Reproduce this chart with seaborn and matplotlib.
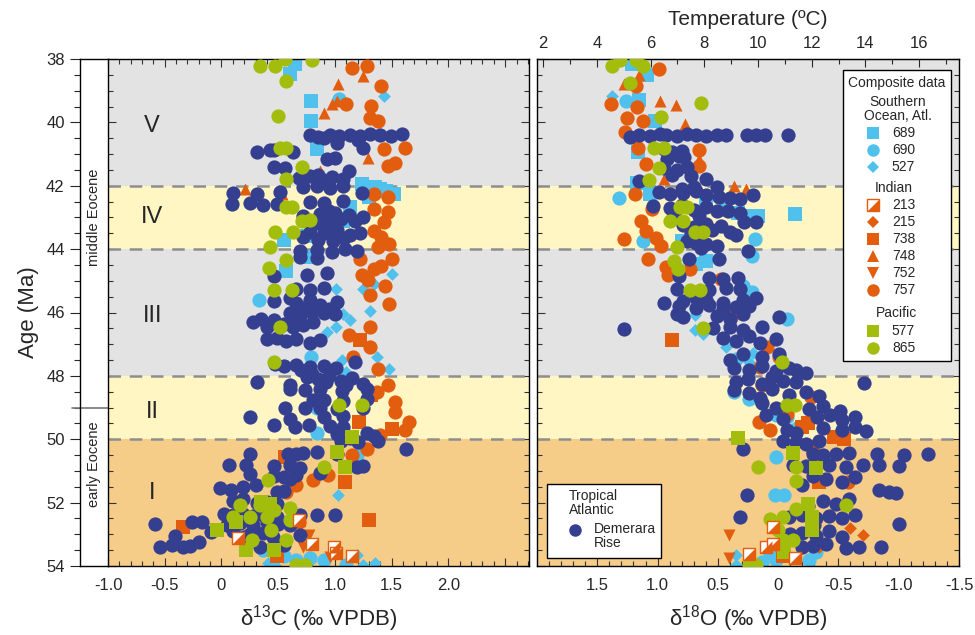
import matplotlib
matplotlib.use("Agg")
import matplotlib.pyplot as plt
import matplotlib.transforms as mtransforms
import seaborn as sns
from matplotlib.patches import Rectangle
from matplotlib.ticker import MultipleLocator, FixedLocator, FuncFormatter

# ---------------- data ----------------
# Demerara Rise (Tropical Atlantic) - d13C panel
dem_c_age = [40.40, 40.45, 40.40, 40.43, 40.40, 40.42, 40.38, 40.40, 40.42, 40.38, 40.64, 40.80, 40.55, 40.50,
             40.92, 40.88, 40.88, 40.95, 41.16, 41.12, 41.42, 41.45, 41.52,
             41.74, 41.70, 41.78, 41.72, 41.80, 41.65, 42.05, 42.00, 42.08, 42.02, 42.22,
             42.22, 42.26, 42.20, 42.58, 42.55, 42.62, 42.58, 42.50, 42.55, 42.48,
             42.95, 42.90, 43.00, 42.85, 43.05, 42.92, 43.10, 42.98, 43.15, 43.18, 42.80,
             43.45, 43.50, 43.40, 43.55, 43.48, 43.70, 43.75, 43.65, 43.62, 43.35,
             44.05, 44.02, 44.08, 44.00, 44.05, 44.26, 44.28, 44.84, 44.82, 44.75,
             45.25, 45.28, 45.22, 45.65, 45.55, 45.70, 45.60, 45.75, 45.68, 45.85, 45.90,
             46.00, 46.05, 45.98, 46.02, 46.05, 46.30, 46.20, 46.25, 46.35, 46.15, 46.40, 46.30, 46.45, 46.45,
             46.85, 46.80, 46.90, 46.85, 46.95, 46.88,
             47.62, 47.70, 47.65, 47.72, 47.68, 47.75, 47.55, 47.80,
             48.20, 48.30, 48.05, 48.10, 48.00, 48.15, 48.08, 48.25, 48.20, 48.30, 47.95,
             48.42, 48.45, 48.40, 48.48, 48.42, 48.77, 48.75, 48.80, 48.72,
             49.00, 49.02, 49.00, 49.05, 49.02, 49.30, 49.35, 49.30, 49.28,
             49.56, 49.60, 49.55, 49.58, 49.62, 49.85, 49.95, 49.80, 49.90, 50.05, 50.30, 50.10, 50.05,
             50.45, 50.45, 50.48, 50.42, 50.40, 50.45, 50.82, 50.80, 50.85, 50.80, 50.90, 50.88, 50.85,
             51.10, 51.15, 51.20, 51.12, 51.05, 51.25, 51.55, 51.60, 51.50, 51.65, 51.62, 51.45,
             51.95, 51.90, 52.00, 52.05, 51.98,
             52.35, 52.40, 52.35, 52.42, 52.38, 52.45, 52.40, 52.40, 52.40,
             52.66, 52.62, 52.62, 52.70, 52.65, 52.70, 52.62, 52.68, 52.72,
             53.05, 52.92, 52.90, 53.00, 52.95, 53.02, 53.10, 53.10,
             53.40, 53.35, 53.40, 53.38, 53.40, 53.35, 53.25]
dem_d13c = [0.78, 0.85, 0.96, 1.04, 1.13, 1.22, 1.31, 1.40, 1.49, 1.59, 1.02, 1.25, 1.20, 0.90,
            0.31, 0.43, 0.46, 0.63, 0.93, 1.00, 0.46, 0.56, 1.12,
            0.68, 0.78, 0.88, 0.97, 1.07, 0.85, 0.72, 0.84, 0.96, 1.07, 1.24,
            0.105, 0.31, 0.52, 0.09, 0.25, 0.37, 0.49, 0.78, 0.90, 1.07,
            0.72, 0.87, 0.93, 1.00, 1.05, 1.12, 1.18, 1.25, 0.95, 0.85, 0.95,
            0.78, 0.90, 1.02, 1.13, 1.22, 0.85, 0.98, 1.08, 0.72, 0.95,
            0.69, 0.84, 0.97, 1.09, 1.19, 0.69, 0.84, 0.46, 0.75, 0.93,
            0.66, 0.78, 0.90, 0.46, 0.60, 0.66, 0.78, 0.87, 1.02, 0.72, 0.95,
            0.60, 0.70, 0.80, 0.90, 1.00, 0.28, 0.35, 0.46, 0.55, 0.63, 0.72, 0.81, 0.63, 0.40,
            0.40, 0.49, 0.57, 0.66, 0.78, 0.87,
            0.47, 0.55, 0.66, 0.78, 0.90, 1.01, 1.18, 0.70,
            0.31, 0.60, 0.75, 0.85, 0.95, 1.05, 1.15, 1.25, 0.92, 1.10, 0.80,
            0.60, 0.74, 0.87, 1.06, 1.28, 0.81, 0.90, 1.07, 1.28,
            0.56, 0.74, 0.87, 1.02, 1.25, 0.25, 0.60, 0.90, 1.07,
            0.46, 0.65, 0.77, 0.96, 1.07, 1.02, 1.13, 1.28, 1.34, 1.38, 1.63, 1.20, 1.05,
            0.25, 0.59, 0.66, 0.72, 0.84, 1.02, 0.07, 0.22, 0.46, 0.60, 0.69, 1.19, 1.25,
            0.25, 0.46, 0.55, 0.66, 0.87, 0.60, -0.01, 0.08, 0.19, 0.49, 0.55, 0.30,
            0.105, 0.19, 0.31, 0.49, 0.40,
            0.02, 0.10, 0.19, 0.28, 0.37, 0.49, 0.69, 0.84, 1.00,
            -0.59, -0.26, -0.17, 0.05, 0.16, 0.28, 0.40, 0.50, 0.60,
            -0.41, -0.09, 0.10, 0.25, 0.37, 0.69, 0.20, 0.45,
            -0.54, -0.44, -0.34, -0.28, 0.34, 0.55, -0.20]

# Demerara Rise - d18O panel
dem_o_age = [40.45, 40.40, 40.42, 40.38, 40.40, 40.42, 40.38, 40.40, 40.42, 40.40, 40.40, 40.40, 40.40, 40.40, 40.40,
             40.85, 40.95, 41.05, 40.90, 41.15, 41.10,
             41.45, 41.50, 41.40, 41.85, 41.80, 42.05, 41.65, 41.70,
             42.20, 42.25, 42.22, 42.18, 42.30, 42.35, 42.40, 42.42, 42.30, 42.10, 42.05,
             42.65, 42.70, 42.60, 42.75, 42.68, 42.80, 42.80, 42.85, 43.15, 43.15, 42.90, 42.95,
             43.25, 43.30, 43.35, 43.40, 43.28, 43.45, 43.55, 43.50, 43.20,
             43.75, 43.80, 43.85, 43.90, 44.05, 43.95, 44.30, 44.32,
             44.85, 44.90, 44.95, 44.90, 45.25, 45.28, 45.22, 45.25,
             45.70, 45.65, 45.55, 45.60, 45.70, 45.62, 45.55,
             45.80, 45.85, 45.75, 45.88, 45.82, 45.78,
             46.05, 46.15, 46.10, 46.20, 46.05, 46.15,
             46.52, 46.50, 46.45, 46.55, 46.45,
             46.80, 46.90, 46.75, 46.95, 46.85,
             47.30, 47.40, 47.30, 47.50,
             47.75, 47.80, 47.70, 47.85, 47.75, 47.82, 47.90,
             48.22, 48.20, 48.25, 48.15, 48.20, 48.05, 48.10,
             48.45, 48.55, 48.40, 48.60, 48.50, 48.65, 48.70,
             48.85, 49.00, 48.90, 49.05, 48.95, 49.10,
             49.25, 49.35, 49.30, 49.25, 49.40, 49.30,
             49.65, 49.70, 49.60, 49.75, 49.70, 49.80,
             50.05, 50.10, 50.15, 50.05, 50.30,
             50.45, 50.50, 50.45, 50.42, 50.45, 50.50, 50.45,
             50.82, 50.85, 50.80, 50.88, 50.82, 50.80, 50.85,
             51.15, 51.25, 51.35, 51.20, 51.60, 51.65, 51.75, 51.45,
             51.95, 52.05, 51.90, 51.70, 52.10,
             52.45, 52.45, 52.40, 52.50, 52.42, 52.48, 52.40,
             52.66, 52.70,
             52.95, 53.05, 52.90, 53.10, 53.00,
             53.40, 53.38, 53.42, 53.40, 53.40, 53.30]
dem_d18o = [1.23, 1.15, 1.06, 0.98, 0.93, 0.84, 0.76, 0.68, 0.60, 0.51, 0.43, 0.26, 0.18, 0.11, -0.08,
            0.95, 0.88, 0.82, 0.80, 0.92, 0.78,
            0.95, 0.84, 0.76, 1.15, 0.60, 0.51, 0.88, 0.72,
            0.99, 0.90, 0.79, 0.68, 0.60, 0.49, 0.40, 0.32, 0.21, 0.80, 0.70,
            1.04, 0.90, 0.80, 0.70, 0.60, 0.51, 0.42, 0.32, 0.28, 0.18, 0.86, 0.66,
            0.79, 0.70, 0.62, 0.55, 0.47, 0.40, 0.35, 0.72, 0.60,
            0.76, 0.68, 0.60, 0.51, 0.25, 0.64, 0.74, 0.49,
            0.82, 0.57, 0.46, 0.33, 0.84, 0.57, 0.43, 0.32,
            0.95, 0.79, 0.68, 0.60, 0.46, 0.29, 0.18,
            0.82, 0.68, 0.57, 0.46, 0.35, 0.24,
            0.84, 0.79, 0.51, 0.40, 0.29, -0.01,
            1.28, 0.54, 0.40, 0.29, 0.13,
            0.46, 0.35, 0.24, 0.15, 0.02,
            0.29, 0.13, -0.01, 0.40,
            0.37, 0.24, 0.13, 0.02, -0.09, -0.15, -0.23,
            -0.71, 0.35, 0.13, -0.04, -0.15, 0.05, 0.25,
            0.37, 0.24, 0.05, -0.09, -0.23, -0.34, 0.15,
            0.13, 0.02, -0.09, -0.26, -0.37, -0.51,
            0.10, -0.04, -0.32, -0.43, -0.53, -0.64,
            -0.37, -0.53, -0.64, -0.73, -0.07, -0.15,
            -0.04, -0.15, -0.23, -0.34, 0.29,
            -0.29, -0.37, -0.48, -0.59, -0.82, -1.04, -1.24,
            -0.12, -0.23, -0.42, -0.56, -0.70, -0.84, -1.00,
            -0.29, -0.40, -0.53, -0.64, -0.84, -0.92, 0.26, -0.20,
            -0.37, -0.48, -0.59, -0.98, -0.25,
            0.32, -0.09, -0.20, -0.31, -0.42, -0.53, -0.64,
            -1.00, -0.30,
            -0.20, -0.31, -0.42, -0.53, -0.10,
            -0.20, -0.29, -0.56, -0.67, -0.85, -0.40]

# Southern Ocean / Atlantic
s689_c_age = [38.17, 38.48, 39.32, 39.95, 40.85, 41.95, 42.05, 42.15, 42.25, 42.37, 42.10, 42.68, 43.10, 43.70, 43.60, 44.68, 44.26]
s689_d13c = [0.65, 0.60, 0.79, 0.79, 0.84, 1.24, 1.35, 1.45, 1.52, 1.30, 1.40, 1.13, 1.07, 0.55, 0.75, 0.57, 0.78]
s689_o_age = [38.17, 38.50, 39.30, 39.97, 40.95, 41.90, 42.26, 42.60, 42.77, 42.87, 42.95, 42.95, 42.89, 43.73, 44.47, 44.36]
s689_d18o = [1.21, 1.09, 1.15, 1.02, 1.16, 1.17, 1.06, 0.60, 0.43, 0.33, 0.22, 0.17, -0.14, 0.80, 0.68, 0.60]

s690_c_age = [39.27, 45.62, 47.40, 49.00, 49.80, 50.50, 53.70, 53.80, 53.75, 53.80, 53.97, 53.50, 51.70]
s690_d13c = [1.04, 0.33, 0.79, 0.84, 0.84, 1.19, 0.55, 0.66, 0.78, 0.90, 1.10, 0.37, 0.50]
s690_o_age = [39.32, 42.39, 43.73, 43.68, 44.23, 45.15, 45.36, 46.20, 47.46, 48.51, 48.72, 48.77, 49.24, 49.30, 49.66,
              50.56, 51.76, 51.76, 53.60, 53.81, 53.86, 53.81, 53.55]
s690_d18o = [1.26, 1.32, 1.12, 0.19, 0.22, 0.29, 0.22, -0.07, 0.35, 0.37, 0.24, 0.15, 0.02, -0.07, -0.16,
             0.02, 0.03, -0.05, 0.07, 0.02, 0.13, -0.26, -0.31]

s527_c_age = [39.17, 44.78, 45.25, 45.25, 45.10, 45.94, 46.04, 46.46, 46.62, 46.25, 47.51, 47.40, 47.77, 47.88,
              51.76, 53.65, 53.97, 53.92, 53.92, 53.97]
s527_d13c = [1.43, 1.50, 1.01, 1.25, 1.34, 1.31, 1.07, 1.01, 0.93, 1.13, 1.06, 1.37, 1.48, 1.10,
             1.03, 1.19, 1.25, 1.35, 0.41, 0.47]
s527_o_age = [39.17, 46.09, 46.55, 46.67, 47.09, 47.28, 47.56, 53.65, 53.97]
s527_d18o = [1.38, 0.69, 0.69, 0.62, 0.43, 0.21, 0.24, 0.35, 0.35]

# Indian Ocean
s213_c_age = [53.13, 53.29, 53.39, 53.60, 53.70, 52.55]
s213_d13c = [0.15, 0.80, 0.99, 1.01, 1.15, 0.68]
s213_o_age = [53.62, 53.41, 53.29, 53.76, 52.76]
s213_d18o = [0.24, 0.10, 0.04, -0.14, 0.04]

s215_o_age = [53.02, 53.39, 52.81]
s215_d18o = [-0.70, -0.34, -0.60]

s738_c_age = [46.88, 48.61, 49.45, 49.67, 51.34, 52.55, 52.76, 53.70, 50.56]
s738_d13c = [1.22, 1.32, 1.21, 1.50, 1.09, 1.30, -0.34, 0.49, 0.56]
s738_o_age = [46.88, 49.49, 49.93, 50.24, 51.34, 53.70, 49.60, 50.00]
s738_d18o = [0.88, -0.25, -0.46, -0.29, -0.34, -0.04, -0.20, -0.55]

s748_c_age = [38.80, 38.54, 39.32, 39.43, 39.69, 41.11, 41.53, 42.10, 42.26]
s748_d13c = [1.03, 1.25, 1.02, 0.97, 0.90, 1.29, 0.87, 0.21, 0.53]
s748_o_age = [38.50, 38.80, 39.32, 39.46, 40.06, 41.16, 41.79, 42.00, 42.10]
s748_d18o = [1.15, 1.28, 0.98, 0.85, 0.77, 0.66, 0.95, 0.37, 0.27]

s752_c_age = [53.02, 53.40, 53.71]
s752_d13c = [0.77, 0.72, 0.96]
s752_o_age = [53.02, 53.76, 53.39]
s752_d18o = [0.41, 0.41, 0.02]

s757_c_age = [38.27, 38.22, 38.85, 39.43, 39.48, 39.85, 39.95, 40.85, 40.80, 41.37,
              41.27, 42.26, 42.37, 42.73, 42.84, 43.15, 43.42, 43.63, 43.84, 43.94,
              44.31, 44.31, 44.83, 44.62, 44.52, 44.99, 45.15, 45.46, 45.73, 46.72,
              46.46, 47.09, 47.41, 47.77, 48.30, 48.51, 48.82, 49.14, 49.45, 49.72,
              49.87, 50.30, 50.50, 51.13, 51.29, 51.45, 51.66, 52.60]
s757_d13c = [1.15, 1.28, 1.41, 1.10, 1.32, 1.31, 1.38, 1.43, 1.62, 1.47,
             1.53, 1.34, 1.47, 1.34, 1.47, 1.43, 1.34, 1.41, 1.48, 1.38,
             1.50, 1.22, 1.24, 1.34, 1.41, 1.29, 1.44, 1.31, 1.48, 1.12,
             1.31, 1.31, 1.16, 1.38, 1.47, 1.37, 1.53, 1.53, 1.65, 1.62,
             1.40, 1.28, 1.15, 0.94, 0.81, 0.66, 0.57, 0.68]
s757_o_age = [38.33, 38.85, 39.43, 39.51, 39.85, 39.95, 40.29, 40.82, 41.32, 40.88,
              41.37, 42.26, 42.73, 43.10, 43.42, 43.68, 43.65, 43.89, 44.31, 44.55,
              44.83, 44.62, 44.94, 47.09, 47.41, 47.72, 48.30, 48.67, 49.45, 49.72,
              49.19, 51.34, 50.66, 46.15]
s757_d18o = [0.99, 1.18, 1.39, 1.17, 1.25, 1.12, 1.27, 1.16, 1.10, 0.66,
             0.66, 1.19, 1.05, 1.14, 1.10, 1.28, 1.01, 0.97, 1.08, 0.93,
             0.91, 0.73, 0.47, 0.09, -0.01, 0.15, 0.13, -0.27, 0.16, 0.07,
             -0.07, -0.58, -0.37, 0.39]

# Pacific
s577_c_age = [52.03, 52.60, 52.85, 53.48, 53.48, 49.93, 50.40, 50.87, 51.97]
s577_d13c = [0.43, 0.13, -0.04, 0.22, 0.46, 1.15, 1.02, 1.09, 0.35]
s577_o_age = [49.95, 50.43, 50.92, 52.05, 52.45, 52.85, 53.39, 53.55]
s577_d18o = [0.33, -0.12, -0.31, -0.25, -0.28, -0.28, -0.05, -0.05]

s865_c_age = [38.22, 38.22, 38.01, 38.04, 38.71, 39.80, 40.80, 41.42, 41.79, 42.66,
              43.10, 43.08, 43.47, 43.47, 43.94, 44.34, 44.60, 45.30, 45.30, 46.46,
              47.56, 48.93, 48.93, 50.87, 51.29, 52.08, 52.08, 52.24, 52.45, 52.45,
              52.45, 52.18, 52.55, 52.87, 53.18, 53.18, 53.97, 53.97, 40.80, 42.66]
s865_d13c = [0.34, 0.47, 0.56, 0.80, 0.57, 0.50, 0.57, 0.71, 0.57, 0.57,
             0.71, 0.78, 0.47, 0.63, 0.43, 0.57, 0.42, 0.46, 0.62, 0.52,
             0.46, 1.04, 1.24, 0.90, 0.41, 0.16, 0.34, 0.46, 0.10, 0.25,
             0.40, 0.60, 0.60, 0.44, 0.27, 0.57, 0.66, 0.74, 0.52, 0.62]
s865_o_age = [38.22, 38.04, 38.04, 38.22, 38.75, 39.40, 39.82, 40.81, 40.81, 41.44,
              41.81, 42.68, 42.68, 43.10, 43.10, 43.47, 43.47, 43.94, 44.36, 44.62,
              45.29, 45.29, 46.48, 47.56, 48.93, 48.93, 50.89, 50.87, 51.31, 52.21,
              52.53, 52.45, 52.87, 53.18, 53.18, 52.08, 53.97, 53.97]
s865_d18o = [1.38, 1.31, 1.18, 1.12, 1.23, 0.64, 0.97, 1.03, 0.95, 0.99,
             1.07, 0.81, 0.76, 0.90, 0.79, 0.69, 0.62, 0.84, 0.86, 0.83,
             0.73, 0.65, 0.62, -0.03, -0.07, -0.14, 0.17, -0.15, -0.15, -0.15,
             0.07, -0.04, 0.00, -0.12, -0.04, -0.56, 0.24, 0.18]

# intervals and labels
band_edges = [38, 42, 44, 48, 50, 54]
band_names = ["V", "IV", "III", "II", "I"]
band_label_age = [40.1, 43.0, 46.1, 49.15, 51.7]
epoch_names = ["middle Eocene", "early Eocene"]
epoch_label_age = [43.0, 50.8]
epoch_boundary = 49.0
y_ticks = [38, 40, 42, 44, 46, 48, 50, 52, 54]
c_ticks = [-1.0, -0.5, 0.0, 0.5, 1.0, 1.5, 2.0, 2.5]
o_ticks = [1.5, 1.0, 0.5, 0.0, -0.5, -1.0, -1.5]
t_ticks = [2, 4, 6, 8, 10, 12, 14, 16]

# ---------------- style ----------------
sns.set_style("white")
plt.rcParams['font.family'] = ['Liberation Sans', 'DejaVu Sans']
plt.rcParams['mathtext.fontset'] = 'custom'
plt.rcParams['mathtext.rm'] = 'Liberation Sans'
plt.rcParams['axes.unicode_minus'] = False

NAVY = '#353f8f'
LBLUE = '#4fc1ec'
ORANGE = '#e35d0e'
GREEN = '#a3bd0c'
GREY_BG = '#e3e3e3'
YEL_BG = '#fff6c4'
ORG_BG = '#f6cc89'
band_colors = [GREY_BG, YEL_BG, GREY_BG, YEL_BG, ORG_BG]

HALF_TRI = [(-1, -1), (1, -1), (1, 1), (-1, -1)]

S_CIRC, S_SQ, S_DIA, S_TRI = 105, 90, 42, 75

fig = plt.figure(figsize=(9.75, 6.35), dpi=100)
W, H = 975.0, 635.0
def rect(x0, x1, y0, y1):
    return [x0 / W, 1 - y1 / H, (x1 - x0) / W, (y1 - y0) / H]

ax_s = fig.add_axes(rect(80, 108, 59, 566))
ax_c = fig.add_axes(rect(108, 529, 59, 566))
ax_o = fig.add_axes(rect(537, 959, 59, 566))


def pts(ax, x, y, marker, color, s, z, **kw):
    opts = dict(linewidth=0)
    opts.update(kw)
    sns.scatterplot(x=x, y=y, ax=ax, marker=marker, color=color, s=s,
                    legend=False, zorder=z, **opts)


def half_sq(ax, x, y, s):
    pts(ax, x, y, 's', 'white', s, 6, edgecolor=ORANGE, linewidth=1.0)
    pts(ax, x, y, HALF_TRI, ORANGE, s, 6.1)


for ax in (ax_c, ax_o):
    for i in range(len(band_names)):
        ax.axhspan(band_edges[i], band_edges[i + 1], color=band_colors[i], zorder=0, lw=0)
    for b in band_edges[1:-1]:
        ax.axhline(b, color='#8e8e8e', lw=1.8, dashes=(5, 3.5), zorder=1)
    ax.set_ylim(54, 38)
    ax.yaxis.set_major_locator(FixedLocator(y_ticks))
    ax.yaxis.set_minor_locator(MultipleLocator(0.5))
    ax.tick_params(axis='y', which='both', direction='in', left=True, right=True,
                   labelleft=False, labelright=False)
    ax.tick_params(axis='both', which='major', length=6, width=0.8, color='#333333')
    ax.tick_params(axis='both', which='minor', length=3.5, width=0.8, color='#333333')
    ax.tick_params(axis='x', which='both', direction='in', bottom=True,
                   labelsize=12, pad=9)
    for sp in ax.spines.values():
        sp.set_color('black')
        sp.set_linewidth(1.0)
    ax.set_ylabel('')

# ---- d13C panel ----
pts(ax_c, s689_d13c, s689_c_age, 's', LBLUE, S_SQ, 2)
pts(ax_c, s690_d13c, s690_c_age, 'o', LBLUE, S_CIRC, 2)
pts(ax_c, s527_d13c, s527_c_age, 'D', LBLUE, S_DIA, 2)
pts(ax_c, s757_d13c, s757_c_age, 'o', ORANGE, S_CIRC, 3)
pts(ax_c, s738_d13c, s738_c_age, 's', ORANGE, S_SQ, 3)
pts(ax_c, s748_d13c, s748_c_age, '^', ORANGE, S_TRI, 3)
pts(ax_c, s752_d13c, s752_c_age, 'v', ORANGE, S_TRI, 3)
pts(ax_c, dem_d13c, dem_c_age, 'o', NAVY, S_CIRC, 4)
pts(ax_c, s865_d13c, s865_c_age, 'o', GREEN, S_CIRC, 5)
pts(ax_c, s577_d13c, s577_c_age, 's', GREEN, S_SQ, 5)
half_sq(ax_c, s213_d13c, s213_c_age, 75)

ax_c.set_xlim(-1.0, 2.71)
ax_c.xaxis.set_major_locator(FixedLocator(c_ticks))
ax_c.xaxis.set_minor_locator(MultipleLocator(0.1))
ax_c.xaxis.set_major_formatter(FuncFormatter(
    lambda v, p: '' if v > 2.2 else ('0' if abs(v) < 1e-9 else f'{v:.1f}')))
ax_c.tick_params(axis='x', which='both', top=True)
ax_c.set_xlabel('δ$^{13}$C (‰ VPDB)', fontsize=16, labelpad=7)

for name, age in zip(band_names, band_label_age):
    ax_c.text(-0.61, age, name, fontsize=17, ha='center', va='center', zorder=8)

# ---- d18O panel ----
pts(ax_o, s689_d18o, s689_o_age, 's', LBLUE, S_SQ, 2)
pts(ax_o, s690_d18o, s690_o_age, 'o', LBLUE, S_CIRC, 2)
pts(ax_o, s527_d18o, s527_o_age, 'D', LBLUE, S_DIA, 2)
pts(ax_o, s757_d18o, s757_o_age, 'o', ORANGE, S_CIRC, 3)
pts(ax_o, s738_d18o, s738_o_age, 's', ORANGE, S_SQ, 3)
pts(ax_o, s748_d18o, s748_o_age, '^', ORANGE, S_TRI, 3)
pts(ax_o, s752_d18o, s752_o_age, 'v', ORANGE, S_TRI, 3)
pts(ax_o, s215_d18o, s215_o_age, 'D', ORANGE, S_DIA, 3)
pts(ax_o, dem_d18o, dem_o_age, 'o', NAVY, S_CIRC, 4)
pts(ax_o, s865_d18o, s865_o_age, 'o', GREEN, S_CIRC, 5)
pts(ax_o, s577_d18o, s577_o_age, 's', GREEN, S_SQ, 5)
half_sq(ax_o, s213_d18o, s213_o_age, 75)

ax_o.set_xlim(2.0, -1.5)
ax_o.xaxis.set_major_locator(FixedLocator(o_ticks))
ax_o.xaxis.set_minor_locator(MultipleLocator(0.1))
ax_o.xaxis.set_major_formatter(FuncFormatter(
    lambda v, p: '0' if abs(v) < 1e-9 else f'{v:.1f}'))
ax_o.tick_params(axis='x', which='both', top=False)
ax_o.set_xlabel('δ$^{18}$O (‰ VPDB)', fontsize=16, labelpad=7)

T_A, T_B = 10.75, 4.491
sec = ax_o.secondary_xaxis('top', functions=(lambda d: T_A - T_B * d, lambda t: (T_A - t) / T_B))
sec.xaxis.set_major_locator(FixedLocator(t_ticks))
sec.xaxis.set_minor_locator(MultipleLocator(1))
sec.tick_params(axis='x', which='both', direction='in', labelsize=12, pad=6)
sec.tick_params(axis='x', which='major', length=6, width=0.8)
sec.tick_params(axis='x', which='minor', length=3.5, width=0.8)
sec.set_xlabel('Temperature (ºC)', fontsize=15, labelpad=8)

# ---- legends (drawn by hand in axes fraction) ----
tA = ax_o.transAxes
ax_o.add_patch(Rectangle((0.725, 0.404), 0.256, 0.574, transform=tA, facecolor='white',
                         edgecolor='black', lw=1.0, zorder=20))
ax_o.text(0.853, 0.953, 'Composite data', transform=tA, ha='center', va='center', fontsize=10, zorder=21)
ax_o.text(0.855, 0.902, 'Southern\nOcean, Atl.', transform=tA, ha='center', va='center', fontsize=10,
          linespacing=1.0, zorder=21)
ax_o.text(0.846, 0.746, 'Indian', transform=tA, ha='center', va='center', fontsize=10, zorder=21)
ax_o.text(0.853, 0.499, 'Pacific', transform=tA, ha='center', va='center', fontsize=10, zorder=21)
leg_items = [('689', 's', LBLUE, 8.5, 0.854), ('690', 'o', LBLUE, 9.0, 0.821), ('527', 'D', LBLUE, 6.0, 0.787),
             ('213', 'half', ORANGE, 8.0, 0.712), ('215', 'D', ORANGE, 6.0, 0.679),
             ('738', 's', ORANGE, 8.5, 0.645), ('748', '^', ORANGE, 8.0, 0.611),
             ('752', 'v', ORANGE, 8.0, 0.578), ('757', 'o', ORANGE, 9.0, 0.544),
             ('577', 's', GREEN, 8.5, 0.464), ('865', 'o', GREEN, 9.0, 0.430)]
for lab, mk, col, ms, fy in leg_items:
    if mk == 'half':
        ax_o.plot([0.797], [fy], marker='s', ms=ms, mfc='white', mec=col, mew=1.0,
                  transform=tA, zorder=21, clip_on=False, ls='none')
        ax_o.plot([0.797], [fy], marker=HALF_TRI, ms=ms, mfc=col, mec=col, mew=0,
                  transform=tA, zorder=22, clip_on=False, ls='none')
    else:
        ax_o.plot([0.797], [fy], marker=mk, ms=ms, color=col, mew=0,
                  transform=tA, zorder=21, clip_on=False, ls='none')
    ax_o.text(0.841, fy, lab, transform=tA, ha='left', va='center', fontsize=10, zorder=21)

ax_o.add_patch(Rectangle((0.024, 0.016), 0.270, 0.146, transform=tA, facecolor='white',
                         edgecolor='black', lw=1.0, zorder=20))
ax_o.text(0.076, 0.124, 'Tropical\nAtlantic', transform=tA, ha='left', va='center', fontsize=10,
          linespacing=0.95, zorder=21)
ax_o.plot([0.090], [0.071], marker='o', ms=9.0, color=NAVY, mew=0, transform=tA, zorder=21, ls='none')
ax_o.text(0.135, 0.059, 'Demerara\nRise', transform=tA, ha='left', va='center', fontsize=10,
          linespacing=0.95, zorder=21)

# ---- epoch strip ----
ax_s.set_ylim(54, 38)
ax_s.set_xlim(0, 1)
ax_s.set_xticks([])
ax_s.yaxis.set_major_locator(FixedLocator(y_ticks))
ax_s.yaxis.set_minor_locator(MultipleLocator(0.5))
ax_s.tick_params(axis='y', which='both', direction='out', left=True, right=False, labelsize=12, pad=4)
ax_s.tick_params(axis='y', which='major', length=7, width=0.8)
ax_s.tick_params(axis='y', which='minor', length=4, width=0.8)
ax_s.spines['right'].set_visible(False)
for sp in ('left', 'top', 'bottom'):
    ax_s.spines[sp].set_color('black')
    ax_s.spines[sp].set_linewidth(1.0)
bt = mtransforms.blended_transform_factory(ax_s.transAxes, ax_s.transData)
ax_s.plot([-0.3, 1.0], [epoch_boundary, epoch_boundary], color='#777777', lw=1.2,
          transform=bt, clip_on=False)
for name, age in zip(epoch_names, epoch_label_age):
    ax_s.text(0.5, age, name, rotation=90, ha='center', va='center', fontsize=10.5)
ax_s.set_ylabel('Age (Ma)', fontsize=16, labelpad=5)

fig.savefig('out.png', dpi=100)
